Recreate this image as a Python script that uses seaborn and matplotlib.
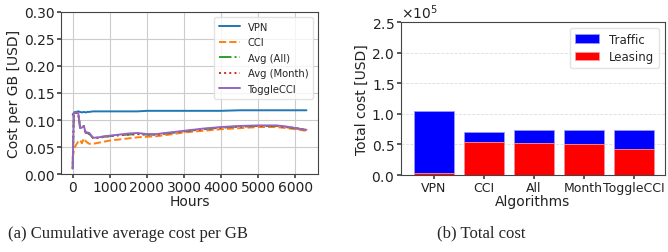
import numpy as np
import pandas as pd
import matplotlib
matplotlib.use("Agg")
import matplotlib.pyplot as plt
import seaborn as sns

# --- data ---
hours = [0, 30, 60, 100, 150, 200, 250, 300, 350, 400, 450, 550, 700, 850,
         1000, 1250, 1500, 1750, 2000, 2250, 2500, 3000, 3500, 4000, 4500,
         5000, 5500, 5750, 6000, 6300]
vpn = [0.110, 0.113, 0.115, 0.115, 0.116, 0.115, 0.114, 0.115, 0.114, 0.115, 0.115, 0.116, 0.116, 0.116,
       0.116, 0.116, 0.116, 0.116, 0.117, 0.117, 0.117, 0.117, 0.117, 0.117, 0.118,
       0.118, 0.118, 0.118, 0.118, 0.118]
cci = [0.030, 0.042, 0.050, 0.055, 0.060, 0.063, 0.057, 0.066, 0.061, 0.058, 0.056, 0.056, 0.058, 0.060,
       0.062, 0.064, 0.066, 0.068, 0.069, 0.070, 0.072, 0.077, 0.080, 0.083, 0.085,
       0.087, 0.087, 0.085, 0.083, 0.080]
avg_all = [0.010, 0.112, 0.113, 0.113, 0.112, 0.086, 0.087, 0.089, 0.076, 0.076, 0.074, 0.067, 0.067, 0.069,
           0.070, 0.072, 0.073, 0.074, 0.073, 0.073, 0.075, 0.079, 0.083, 0.086, 0.088,
           0.089, 0.089, 0.087, 0.085, 0.081]
avg_month = [0.010, 0.112, 0.113, 0.113, 0.112, 0.086, 0.087, 0.089, 0.076, 0.076, 0.074, 0.067, 0.067, 0.069,
             0.070, 0.072, 0.073, 0.074, 0.073, 0.073, 0.075, 0.079, 0.083, 0.086, 0.088,
             0.089, 0.089, 0.087, 0.085, 0.082]
toggle = [0.010, 0.113, 0.114, 0.114, 0.113, 0.085, 0.086, 0.089, 0.077, 0.077, 0.076, 0.067, 0.068, 0.070,
          0.071, 0.073, 0.075, 0.076, 0.074, 0.074, 0.076, 0.080, 0.084, 0.087, 0.089,
          0.090, 0.090, 0.088, 0.085, 0.082]

algorithms = ["VPN", "CCI", "All", "Month", "ToggleCCI"]
total_cost = [1.05e5, 0.71e5, 0.73e5, 0.74e5, 0.74e5]
leasing_cost = [0.04e5, 0.54e5, 0.53e5, 0.50e5, 0.43e5]

sns.set_theme(style="whitegrid")
plt.rcParams["font.family"] = ["DejaVu Sans"]

fig = plt.figure(figsize=(6.68, 2.53), dpi=100)
ax1 = fig.add_axes([0.0913, 0.308, 0.385, 0.641])
ax2 = fig.add_axes([0.600, 0.304, 0.395, 0.605])

TXT = "#222222"

# --- (a) cumulative average cost per GB ---
series = [
    ("VPN", vpn, "tab:blue", "-"),
    ("CCI", cci, "tab:orange", "--"),
    ("Avg (All)", avg_all, "tab:green", "-."),
    ("Avg (Month)", avg_month, "tab:red", ":"),
    ("ToggleCCI", toggle, "tab:purple", "-"),
]
for name, vals, col, ls in series:
    df = pd.DataFrame({"Hours": hours, "cost": vals})
    sns.lineplot(data=df, x="Hours", y="cost", ax=ax1, color=col,
                 linestyle=ls, linewidth=1.4, label=name)

ax1.set_ylim(0, 0.30)
ax1.set_yticks(np.arange(0, 0.31, 0.05))
ax1.set_xticks(range(0, 6001, 1000))
ax1.set_xlabel("Hours", fontsize=10, labelpad=0, color=TXT)
ax1.set_ylabel("Cost per GB [USD]", fontsize=10, labelpad=2, color=TXT)
ax1.tick_params(labelsize=10, length=3, pad=1.5, left=True, bottom=True,
                color="#444444", labelcolor=TXT)
ax1.grid(True, color="#cccccc", linewidth=0.8)
for s in ax1.spines.values():
    s.set_color("#444444")
    s.set_linewidth(0.8)
ax1.legend(loc="upper right", fontsize=7.2, frameon=True, framealpha=0.8,
           borderpad=0.5, labelspacing=0.55, handlelength=2.1, handletextpad=0.8,
           edgecolor="#dddddd")

# --- (b) total cost ---
bar_df = pd.DataFrame({"Algorithms": algorithms, "Traffic": total_cost, "Leasing": leasing_cost})
sns.barplot(data=bar_df, x="Algorithms", y="Traffic", ax=ax2, color="#0000ff",
            saturation=1, width=0.8, label="Traffic", edgecolor="#9999ff", linewidth=0.6)
sns.barplot(data=bar_df, x="Algorithms", y="Leasing", ax=ax2, color="#ff0000",
            saturation=1, width=0.8, label="Leasing", edgecolor="#ff9999", linewidth=0.6)
ax2.set_xlim(-0.66, 4.62)
ax2.set_ylim(0, 2.5e5)
ax2.set_yticks(np.arange(0, 2.51e5, 0.5e5))
ax2.ticklabel_format(axis="y", style="sci", scilimits=(0, 0), useMathText=True)
ax2.yaxis.get_offset_text().set_fontsize(10)
ax2.set_xlabel("Algorithms", fontsize=10, labelpad=0, color=TXT)
ax2.set_ylabel("Total cost [USD]", fontsize=10, labelpad=2, color=TXT)
ax2.tick_params(axis="y", labelsize=10, length=3, pad=1.5, left=True,
                color="#444444", labelcolor=TXT)
ax2.tick_params(axis="x", labelsize=9, length=3, pad=1.5, bottom=True,
                color="#444444", labelcolor=TXT)
ax2.grid(False)
ax2.yaxis.grid(True, linestyle="--", color="#dddddd", linewidth=0.6)
ax2.set_axisbelow(True)
for s in ax2.spines.values():
    s.set_color("#444444")
    s.set_linewidth(0.8)
ax2.legend(loc="upper right", fontsize=8.5, frameon=True, framealpha=0.8,
           borderpad=0.4, labelspacing=0.4, handlelength=2.1, handletextpad=0.8,
           edgecolor="#dddddd")

# captions
fig.text(0.012, 0.06, "(a) Cumulative average cost per GB", fontsize=12,
         family="Liberation Serif", va="baseline")
fig.text(0.654, 0.06, "(b) Total cost", fontsize=12,
         family="Liberation Serif", va="baseline")

fig.savefig("out.png", dpi=100)
